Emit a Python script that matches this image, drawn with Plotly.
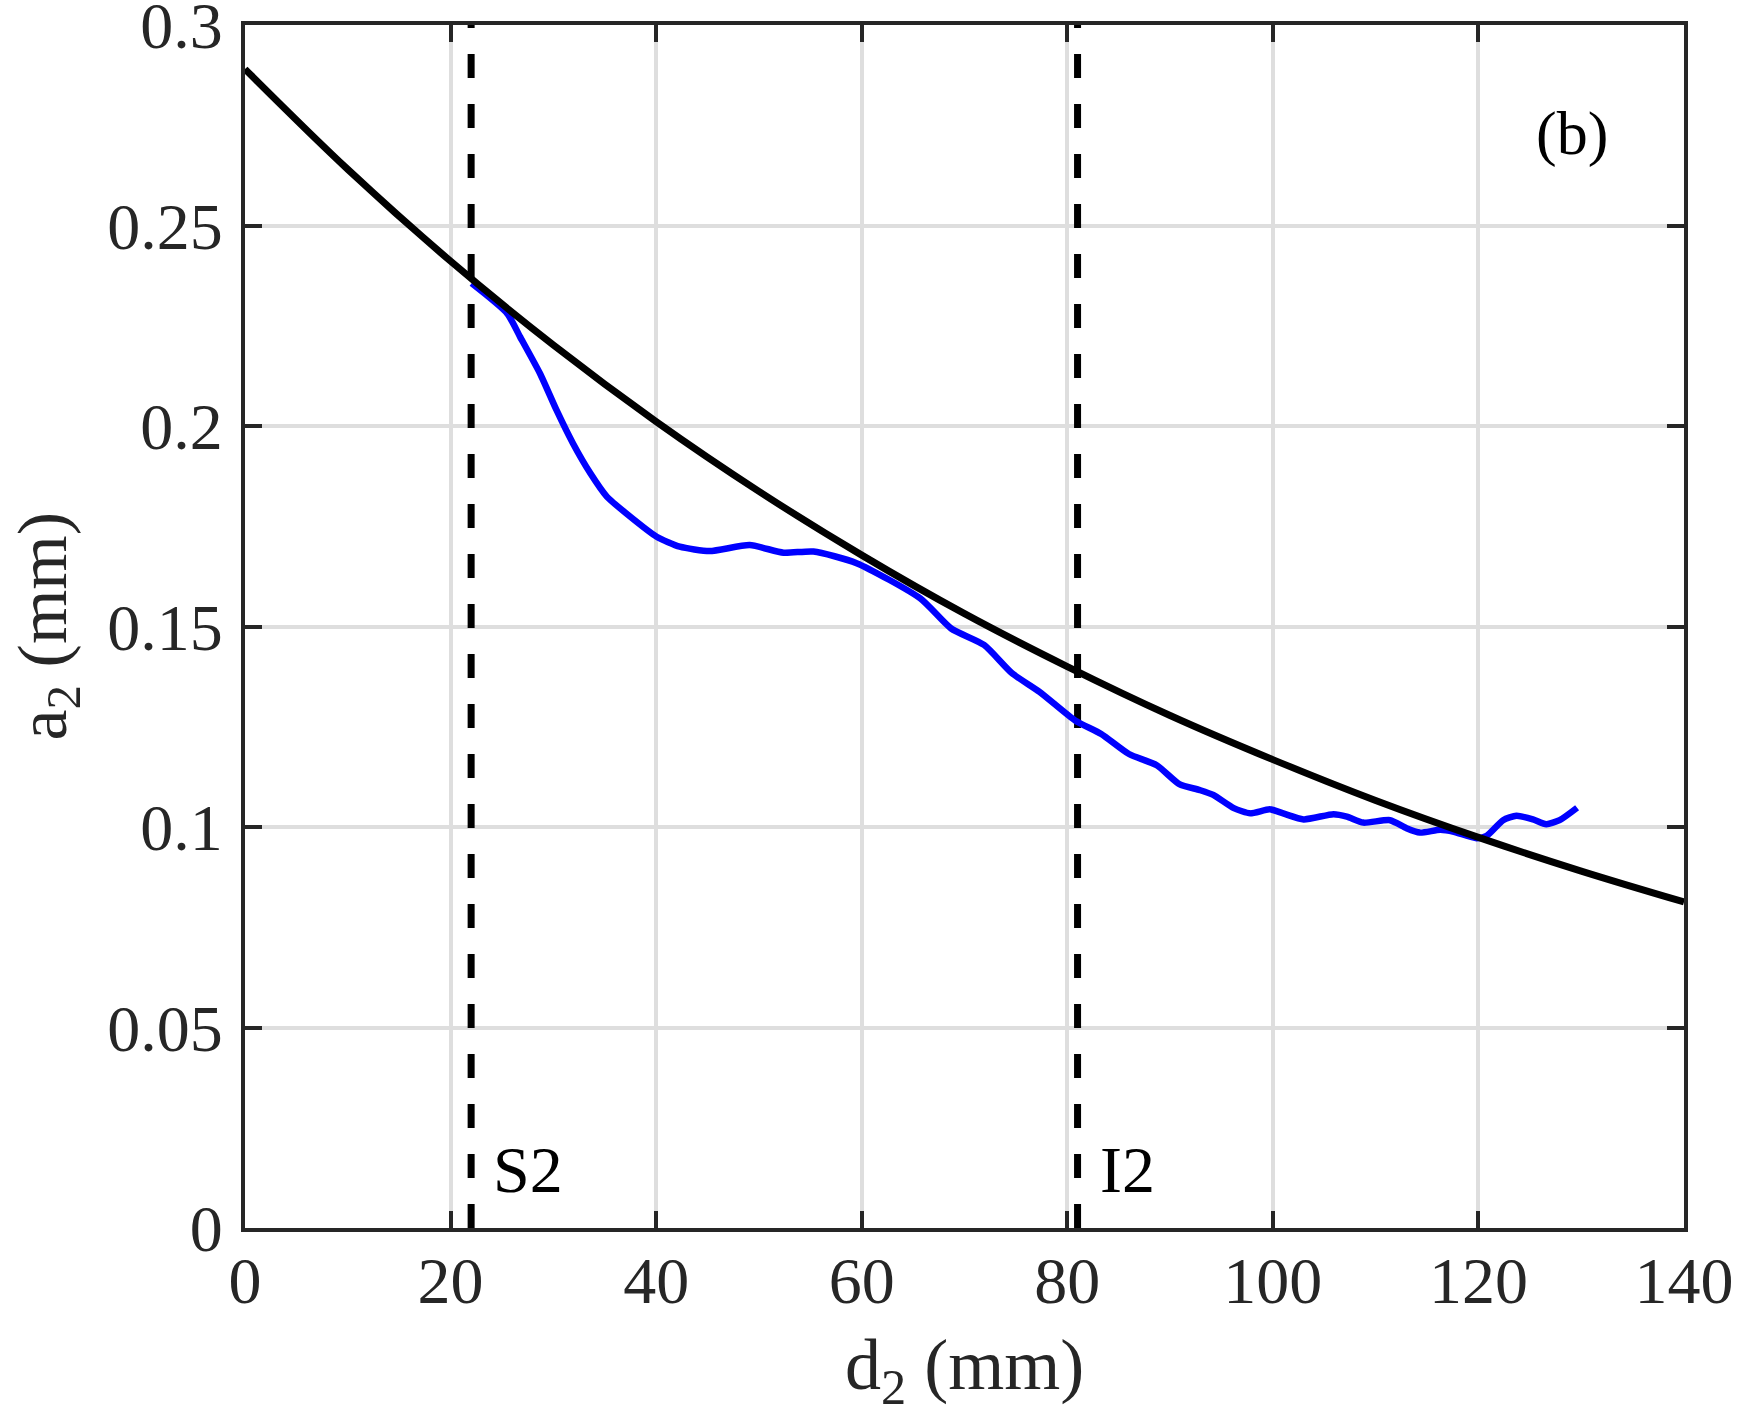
import plotly.graph_objects as go

# Black model curve
fit_d = [0, 10, 20, 30, 40, 50, 60, 70, 80, 90, 100, 110, 120, 130, 140]
fit_a = [0.289, 0.264, 0.2411, 0.2202, 0.2011, 0.1837, 0.1678, 0.1532, 0.1400,
         0.1278, 0.1168, 0.1066, 0.0974, 0.0890, 0.0813]

# Blue measured curve
meas_d = [22.05, 25.5, 26.75, 28.7, 30.3, 31.9, 33.6, 35.2, 37.1, 40.05, 42.3, 45.2,
          49.1, 52.4, 55.3, 59.5, 65.7, 68.7, 71.9, 74.6, 77.3, 80.8, 83.3, 86.0,
          88.7, 90.9, 92.9, 94.2, 96.2, 97.8, 99.7, 101.0, 103.0, 105.9, 107.2,
          108.8, 111.4, 113.0, 114.3, 116.3, 117.6, 119.8, 120.8, 122.4, 123.7,
          125.3, 126.6, 127.9, 129.6]
meas_a = [0.2356, 0.2281, 0.2223, 0.2131, 0.2040, 0.1957, 0.1882, 0.1824, 0.1782,
          0.1724, 0.1699, 0.1688, 0.1703, 0.1684, 0.1687, 0.1658, 0.1570, 0.1495,
          0.1454, 0.1384, 0.1337, 0.1265, 0.1232, 0.1182, 0.1154, 0.1107, 0.1092,
          0.1080, 0.1047, 0.1034, 0.1044, 0.1034, 0.1019, 0.1032, 0.1026, 0.1011,
          0.1017, 0.0997, 0.0986, 0.0993, 0.0988, 0.0972, 0.0978, 0.1017, 0.1028,
          0.1019, 0.1007, 0.1017, 0.1048]

# Marker lines
marker_names = ["S2", "I2"]
marker_d = [22, 81]

x_ticks = [0, 20, 40, 60, 80, 100, 120, 140]
y_ticks = [0, 0.05, 0.1, 0.15, 0.2, 0.25, 0.3]
y_tick_text = ["0", "0.05", "0.1", "0.15", "0.2", "0.25", "0.3"]

FONT = "Liberation Serif"
AX = "#262626"

fig = go.Figure()
for name, d in zip(marker_names, marker_d):
    fig.add_trace(go.Scatter(x=[d, d], y=[0, 0.3], mode="lines",
                             line=dict(color="black", width=7, dash="24px,26px"),
                             showlegend=False, hoverinfo="skip"))
fig.add_trace(go.Scatter(x=meas_d, y=meas_a, mode="lines",
                         line=dict(color="#0000ff", width=6.5, shape="spline", smoothing=0.6),
                         showlegend=False))
fig.add_trace(go.Scatter(x=fit_d, y=fit_a, mode="lines",
                         line=dict(color="black", width=7, shape="spline"),
                         showlegend=False))

for name, d in zip(marker_names, marker_d):
    fig.add_annotation(x=d, y=0.0, xref="x", yref="y", text=name, showarrow=False,
                       xanchor="left", yanchor="bottom", xshift=20, yshift=20,
                       font=dict(family=FONT, size=66, color="black"))

fig.add_annotation(x=0.922, y=0.910, xref="paper", yref="paper", text="(b)",
                   showarrow=False, xanchor="center", yanchor="middle",
                   font=dict(family=FONT, size=62, color="black"))

# Axis titles
fig.add_annotation(x=0.5, y=0, xref="paper", yref="paper", text="d<sub>2</sub> (mm)",
                   showarrow=False, xanchor="center", yanchor="middle", yshift=-142,
                   font=dict(family=FONT, size=72, color=AX))
fig.add_annotation(x=0, y=0.5, xref="paper", yref="paper", text="a<sub>2</sub> (mm)",
                   showarrow=False, xanchor="center", yanchor="middle", xshift=-198,
                   textangle=-90, font=dict(family=FONT, size=70, color=AX))

axis_common = dict(
    showline=True, linecolor=AX, linewidth=4, mirror="allticks",
    ticks="inside", ticklen=17, tickwidth=3.5, tickcolor=AX,
    showgrid=True, gridcolor="#dedede", gridwidth=3.5, zeroline=False,
    tickfont=dict(family=FONT, size=66, color=AX),
    ticklabeloverflow="allow", automargin=False,
)

fig.update_xaxes(range=[0, 140], tickvals=x_ticks, ticktext=[str(v) for v in x_ticks],
                 ticklabelstandoff=-8, **axis_common)
fig.update_yaxes(range=[0, 0.3], tickvals=y_ticks, ticktext=y_tick_text,
                 ticklabelstandoff=5, **axis_common)

fig.update_layout(
    width=1744, height=1428,
    margin=dict(l=245, r=60, t=25, b=200, autoexpand=False),
    plot_bgcolor="white", paper_bgcolor="white",
)

fig.write_html("out.html")
